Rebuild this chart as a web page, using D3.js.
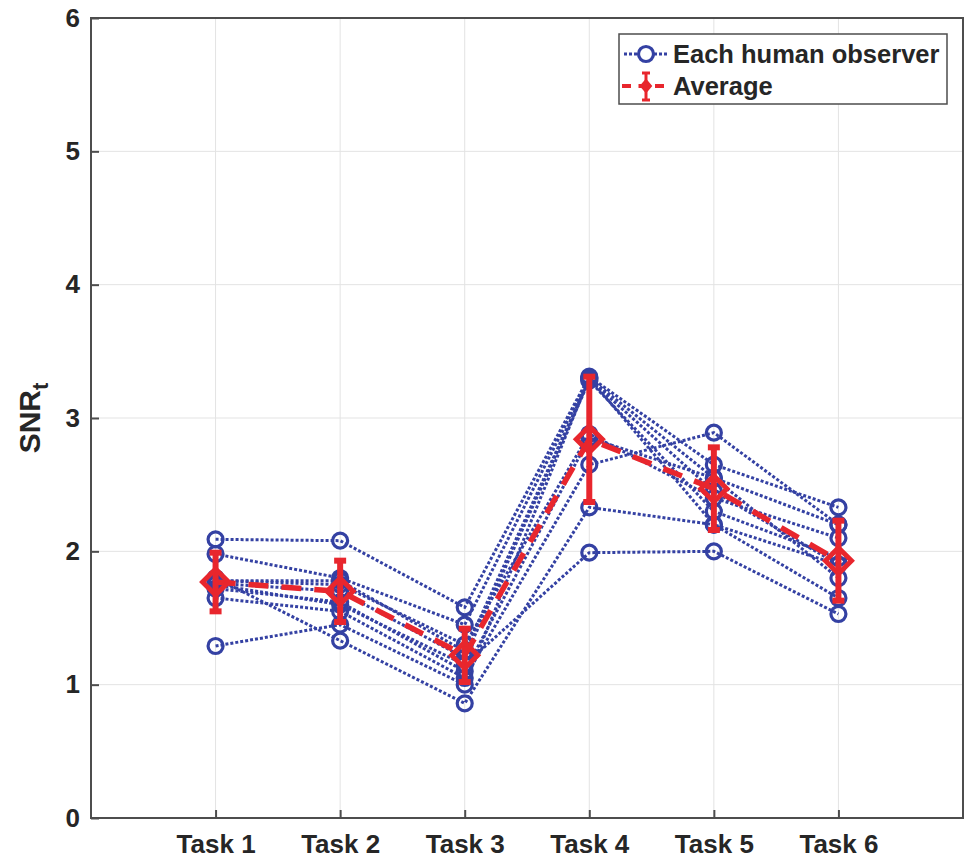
<!DOCTYPE html>
<html>
<head>
<meta charset="utf-8">
<script src="https://cdn.jsdelivr.net/npm/d3@7"></script>
<style>
    body { margin: 0; background: #fff; }
    text { font-family: "Liberation Sans", Arial, sans-serif; font-weight: bold; fill: #262626; }
</style>
</head>
<body>
<svg width="966" height="859"></svg>
<script>
// task names on the x axis
var tasks = ["Task 1", "Task 2", "Task 3", "Task 4", "Task 5", "Task 6"];

// SNR_t of each human observer, one array per observer (Task 1 .. Task 6)
var obs1  = [2.09, 2.08, 1.58, 3.31, 2.65, 2.33];
var obs2  = [1.98, 1.80, 1.45, 3.30, 2.55, 2.20];
var obs3  = [1.78, 1.75, 1.30, 2.88, 2.40, 2.10];
var obs4  = [1.76, 1.70, 1.20, 3.28, 2.30, 1.95];
var obs5  = [1.72, 1.62, 1.10, 2.85, 2.55, 1.80];
var obs6  = [1.65, 1.55, 1.05, 2.65, 2.89, 2.20];
var obs7  = [1.29, 1.45, 1.00, 3.30, 2.20, 1.90];
var obs8  = [1.80, 1.33, 0.86, 2.33, 2.20, 1.65];
var obs9  = [1.75, 1.60, 1.15, 1.99, 2.00, 1.53];
var obs10 = [1.78, 1.78, 1.25, 3.29, 2.45, 1.90];
var observers = [obs1, obs2, obs3, obs4, obs5, obs6, obs7, obs8, obs9, obs10];

// average and its error bar half-width
var avgSNR = [1.77, 1.70, 1.22, 2.84, 2.47, 1.93];
var avgErr = [0.22, 0.23, 0.20, 0.47, 0.31, 0.30];

var yTicks = [0, 1, 2, 3, 4, 5, 6];

var blue = "#3441a3";
var red = "#e8262d";

var svg = d3.select("svg");

var x = d3.scaleLinear().domain([0, 7]).range([91, 963]);
var y = d3.scaleLinear().domain([0, 6]).range([818, 18]);

// grid
var grid = svg.append("g").attr("class", "grid");
grid.selectAll("line.h").data(yTicks).enter().append("line")
    .attr("x1", x(0)).attr("x2", x(7))
    .attr("y1", function (d) { return y(d); })
    .attr("y2", function (d) { return y(d); })
    .attr("stroke", "#e3e3e3").attr("stroke-width", 1);
grid.selectAll("line.v").data(d3.range(1, 7)).enter().append("line")
    .attr("y1", y(0)).attr("y2", y(6))
    .attr("x1", function (d) { return x(d); })
    .attr("x2", function (d) { return x(d); })
    .attr("stroke", "#e3e3e3").attr("stroke-width", 1);

// box
svg.append("rect")
    .attr("x", x(0)).attr("y", y(6))
    .attr("width", x(7) - x(0)).attr("height", y(0) - y(6))
    .attr("fill", "none").attr("stroke", "#4d4d4d").attr("stroke-width", 2);

// axes
var yAxis = svg.append("g")
    .attr("transform", "translate(" + x(0) + ",0)")
    .call(d3.axisLeft(y).tickValues(yTicks).tickSize(-8).tickPadding(11).tickFormat(d3.format("d")));
var xAxis = svg.append("g")
    .attr("transform", "translate(0," + y(0) + ")")
    .call(d3.axisBottom(x).tickValues(d3.range(1, 7)).tickSize(-8).tickPadding(17)
        .tickFormat(function (d) { return tasks[d - 1]; }));
[yAxis, xAxis].forEach(function (a) {
    a.select(".domain").remove();
    a.selectAll(".tick line").attr("stroke", "#4d4d4d").attr("stroke-width", 2);
    a.selectAll(".tick text").attr("font-size", 26).attr("fill", "#262626")
        .attr("font-family", "Liberation Sans, Arial, sans-serif").attr("font-weight", "bold");
});

// y label
var ylab = svg.append("text")
    .attr("transform", "translate(40," + y(3) + ") rotate(-90)")
    .attr("text-anchor", "middle")
    .attr("font-size", 30);
ylab.append("tspan").text("SNR");
ylab.append("tspan").attr("font-size", 22).attr("dy", 8).text("t");

// observer lines
var line = d3.line()
    .x(function (d, i) { return x(i + 1); })
    .y(function (d) { return y(d); });

var obsG = svg.append("g").attr("class", "observers");
obsG.selectAll("path").data(observers).enter().append("path")
    .attr("d", line)
    .attr("fill", "none")
    .attr("stroke", blue)
    .attr("stroke-width", 3)
    .attr("stroke-dasharray", "3,2");

observers.forEach(function (o) {
    obsG.append("g").selectAll("circle").data(o).enter().append("circle")
        .attr("cx", function (d, i) { return x(i + 1); })
        .attr("cy", function (d) { return y(d); })
        .attr("r", 7.5)
        .attr("fill", "none")
        .attr("stroke", blue)
        .attr("stroke-width", 3.2);
});

// average
var avgG = svg.append("g").attr("class", "average");
avgG.append("path")
    .datum(avgSNR)
    .attr("d", line)
    .attr("fill", "none")
    .attr("stroke", red)
    .attr("stroke-width", 5.5)
    .attr("stroke-dasharray", "20,13");

var bars = avgG.selectAll("g.bar").data(avgSNR).enter().append("g").attr("class", "bar");
bars.append("line")
    .attr("x1", function (d, i) { return x(i + 1); })
    .attr("x2", function (d, i) { return x(i + 1); })
    .attr("y1", function (d, i) { return y(d + avgErr[i]); })
    .attr("y2", function (d, i) { return y(d - avgErr[i]); })
    .attr("stroke", red).attr("stroke-width", 6);
bars.append("line")
    .attr("x1", function (d, i) { return x(i + 1) - 6; })
    .attr("x2", function (d, i) { return x(i + 1) + 6; })
    .attr("y1", function (d, i) { return y(d + avgErr[i]); })
    .attr("y2", function (d, i) { return y(d + avgErr[i]); })
    .attr("stroke", red).attr("stroke-width", 6);
bars.append("line")
    .attr("x1", function (d, i) { return x(i + 1) - 6; })
    .attr("x2", function (d, i) { return x(i + 1) + 6; })
    .attr("y1", function (d, i) { return y(d - avgErr[i]); })
    .attr("y2", function (d, i) { return y(d - avgErr[i]); })
    .attr("stroke", red).attr("stroke-width", 6);
bars.append("path")
    .attr("d", function (d, i) {
        var cx = x(i + 1), cy = y(d), s = 13;
        return "M" + (cx - s) + "," + cy + "L" + cx + "," + (cy - s) + "L" + (cx + s) + "," + cy + "L" + cx + "," + (cy + s) + "Z";
    })
    .attr("fill", "none").attr("stroke", red).attr("stroke-width", 5);

// legend
var leg = svg.append("g").attr("class", "legend");
leg.append("rect")
    .attr("x", 619).attr("y", 34).attr("width", 328).attr("height", 70)
    .attr("fill", "#fff").attr("stroke", "#4d4d4d").attr("stroke-width", 1.5);

leg.append("line")
    .attr("x1", 624).attr("x2", 668).attr("y1", 54).attr("y2", 54)
    .attr("stroke", blue).attr("stroke-width", 3).attr("stroke-dasharray", "3,2");
leg.append("circle")
    .attr("cx", 646).attr("cy", 54).attr("r", 7.5)
    .attr("fill", "#fff").attr("stroke", blue).attr("stroke-width", 3.2);
leg.append("text").attr("x", 673).attr("y", 63).attr("font-size", 25.5).text("Each human observer");

leg.append("line")
    .attr("x1", 622).attr("x2", 670).attr("y1", 86).attr("y2", 86)
    .attr("stroke", red).attr("stroke-width", 4).attr("stroke-dasharray", "9,7.5");
leg.append("line")
    .attr("x1", 646).attr("x2", 646).attr("y1", 73).attr("y2", 100)
    .attr("stroke", red).attr("stroke-width", 3);
leg.append("line")
    .attr("x1", 642).attr("x2", 650).attr("y1", 73).attr("y2", 73)
    .attr("stroke", red).attr("stroke-width", 3);
leg.append("line")
    .attr("x1", 642).attr("x2", 650).attr("y1", 100).attr("y2", 100)
    .attr("stroke", red).attr("stroke-width", 3);
leg.append("path")
    .attr("d", "M641,86L646,80L651,86L646,92Z")
    .attr("fill", red).attr("stroke", red).attr("stroke-width", 2);
leg.append("text").attr("x", 673).attr("y", 95).attr("font-size", 25.5).text("Average");
</script>
</body>
</html>
